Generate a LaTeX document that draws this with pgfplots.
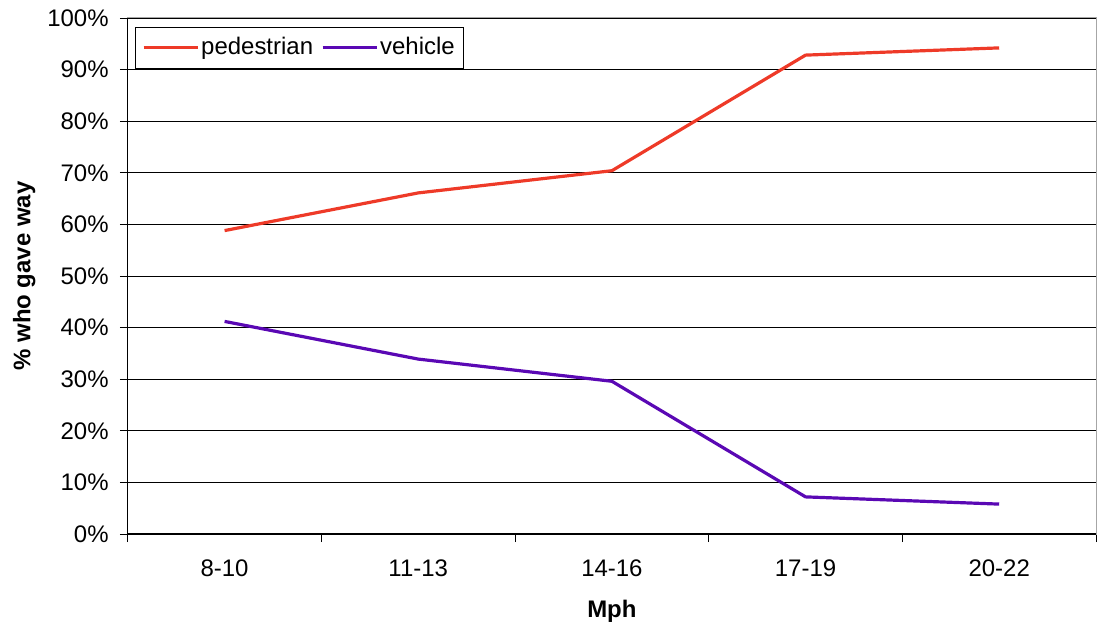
\documentclass[border=0pt]{standalone}
\usepackage{pgfplots}
\pgfplotsset{compat=1.18}
\usepackage{fontspec}
\setmainfont{Liberation Sans}
\definecolor{pedred}{RGB}{238,58,40}
\definecolor{vehpurple}{RGB}{90,8,180}
\begin{document}
\fontsize{24}{28}\selectfont
\begin{tikzpicture}
\begin{axis}[
  scale only axis,
  width=970pt, height=517pt,
  xmin=-0.5, xmax=4.5,
  ymin=0, ymax=100,
  xtick={-0.5,0.5,1.5,2.5,3.5,4.5},
  xticklabels={},
  extra x ticks={0,1,2,3,4},
  extra x tick labels={8-10,11-13,14-16,17-19,20-22},
  extra x tick style={major tick length=0pt, grid=none},
  xtick pos=bottom, ytick pos=left,
  ytick={0,10,...,100},
  yticklabel={\pgfmathprintnumber{\tick}\%},
  /pgf/number format/assume math mode=true,
  tick align=outside,
  major tick length=8pt,
  tick style={black, line width=0.8pt},
  ymajorgrids,
  grid style={black, line width=0.8pt},
  axis line style={draw=gray!70, line width=1pt},
  xticklabel style={yshift=-18pt},
  yticklabel style={xshift=-3pt},
  tick label style={font=\fontsize{24}{28}\selectfont},
  xlabel={\textbf{Mph}},
  ylabel={\textbf{\% who gave way}},
  every axis x label/.style={at={(axis description cs:0.5,-0.149)}, anchor=center, font=\fontsize{24}{28}\selectfont},
  every axis y label/.style={at={(axis description cs:-0.107,0.5)}, rotate=90, anchor=center, font=\fontsize{24}{28}\selectfont},
  legend columns=-1,
  legend style={at={(0.0072,0.9826)}, anchor=north west, draw=black, line width=0.8pt,
    font=\fontsize{24}{28}\selectfont, inner xsep=7pt, inner ysep=8pt,
    /tikz/every even column/.append style={column sep=6pt}},
  legend image code/.code={\draw[#1, line width=3.2pt] (0pt,0pt) -- (54pt,0pt);},
  clip=false,
]
\addplot[pedred, line width=3.2pt] coordinates {(0,58.8) (1,66.1) (2,70.4) (3,92.8) (4,94.2)};
\addlegendentry{pedestrian}
\addplot[vehpurple, line width=3.2pt] coordinates {(0,41.2) (1,33.9) (2,29.6) (3,7.2) (4,5.8)};
\addlegendentry{vehicle}
\draw[black, line width=1.2pt] (rel axis cs:0,1) -- (rel axis cs:0,0) -- (rel axis cs:1,0);
\coordinate (bl) at ([xshift=-128pt,yshift=-95pt]rel axis cs:0,0);
\coordinate (tr) at ([xshift=6pt,yshift=18pt]rel axis cs:1,1);
\end{axis}
\useasboundingbox (bl) rectangle (tr);
\end{tikzpicture}
\end{document}
